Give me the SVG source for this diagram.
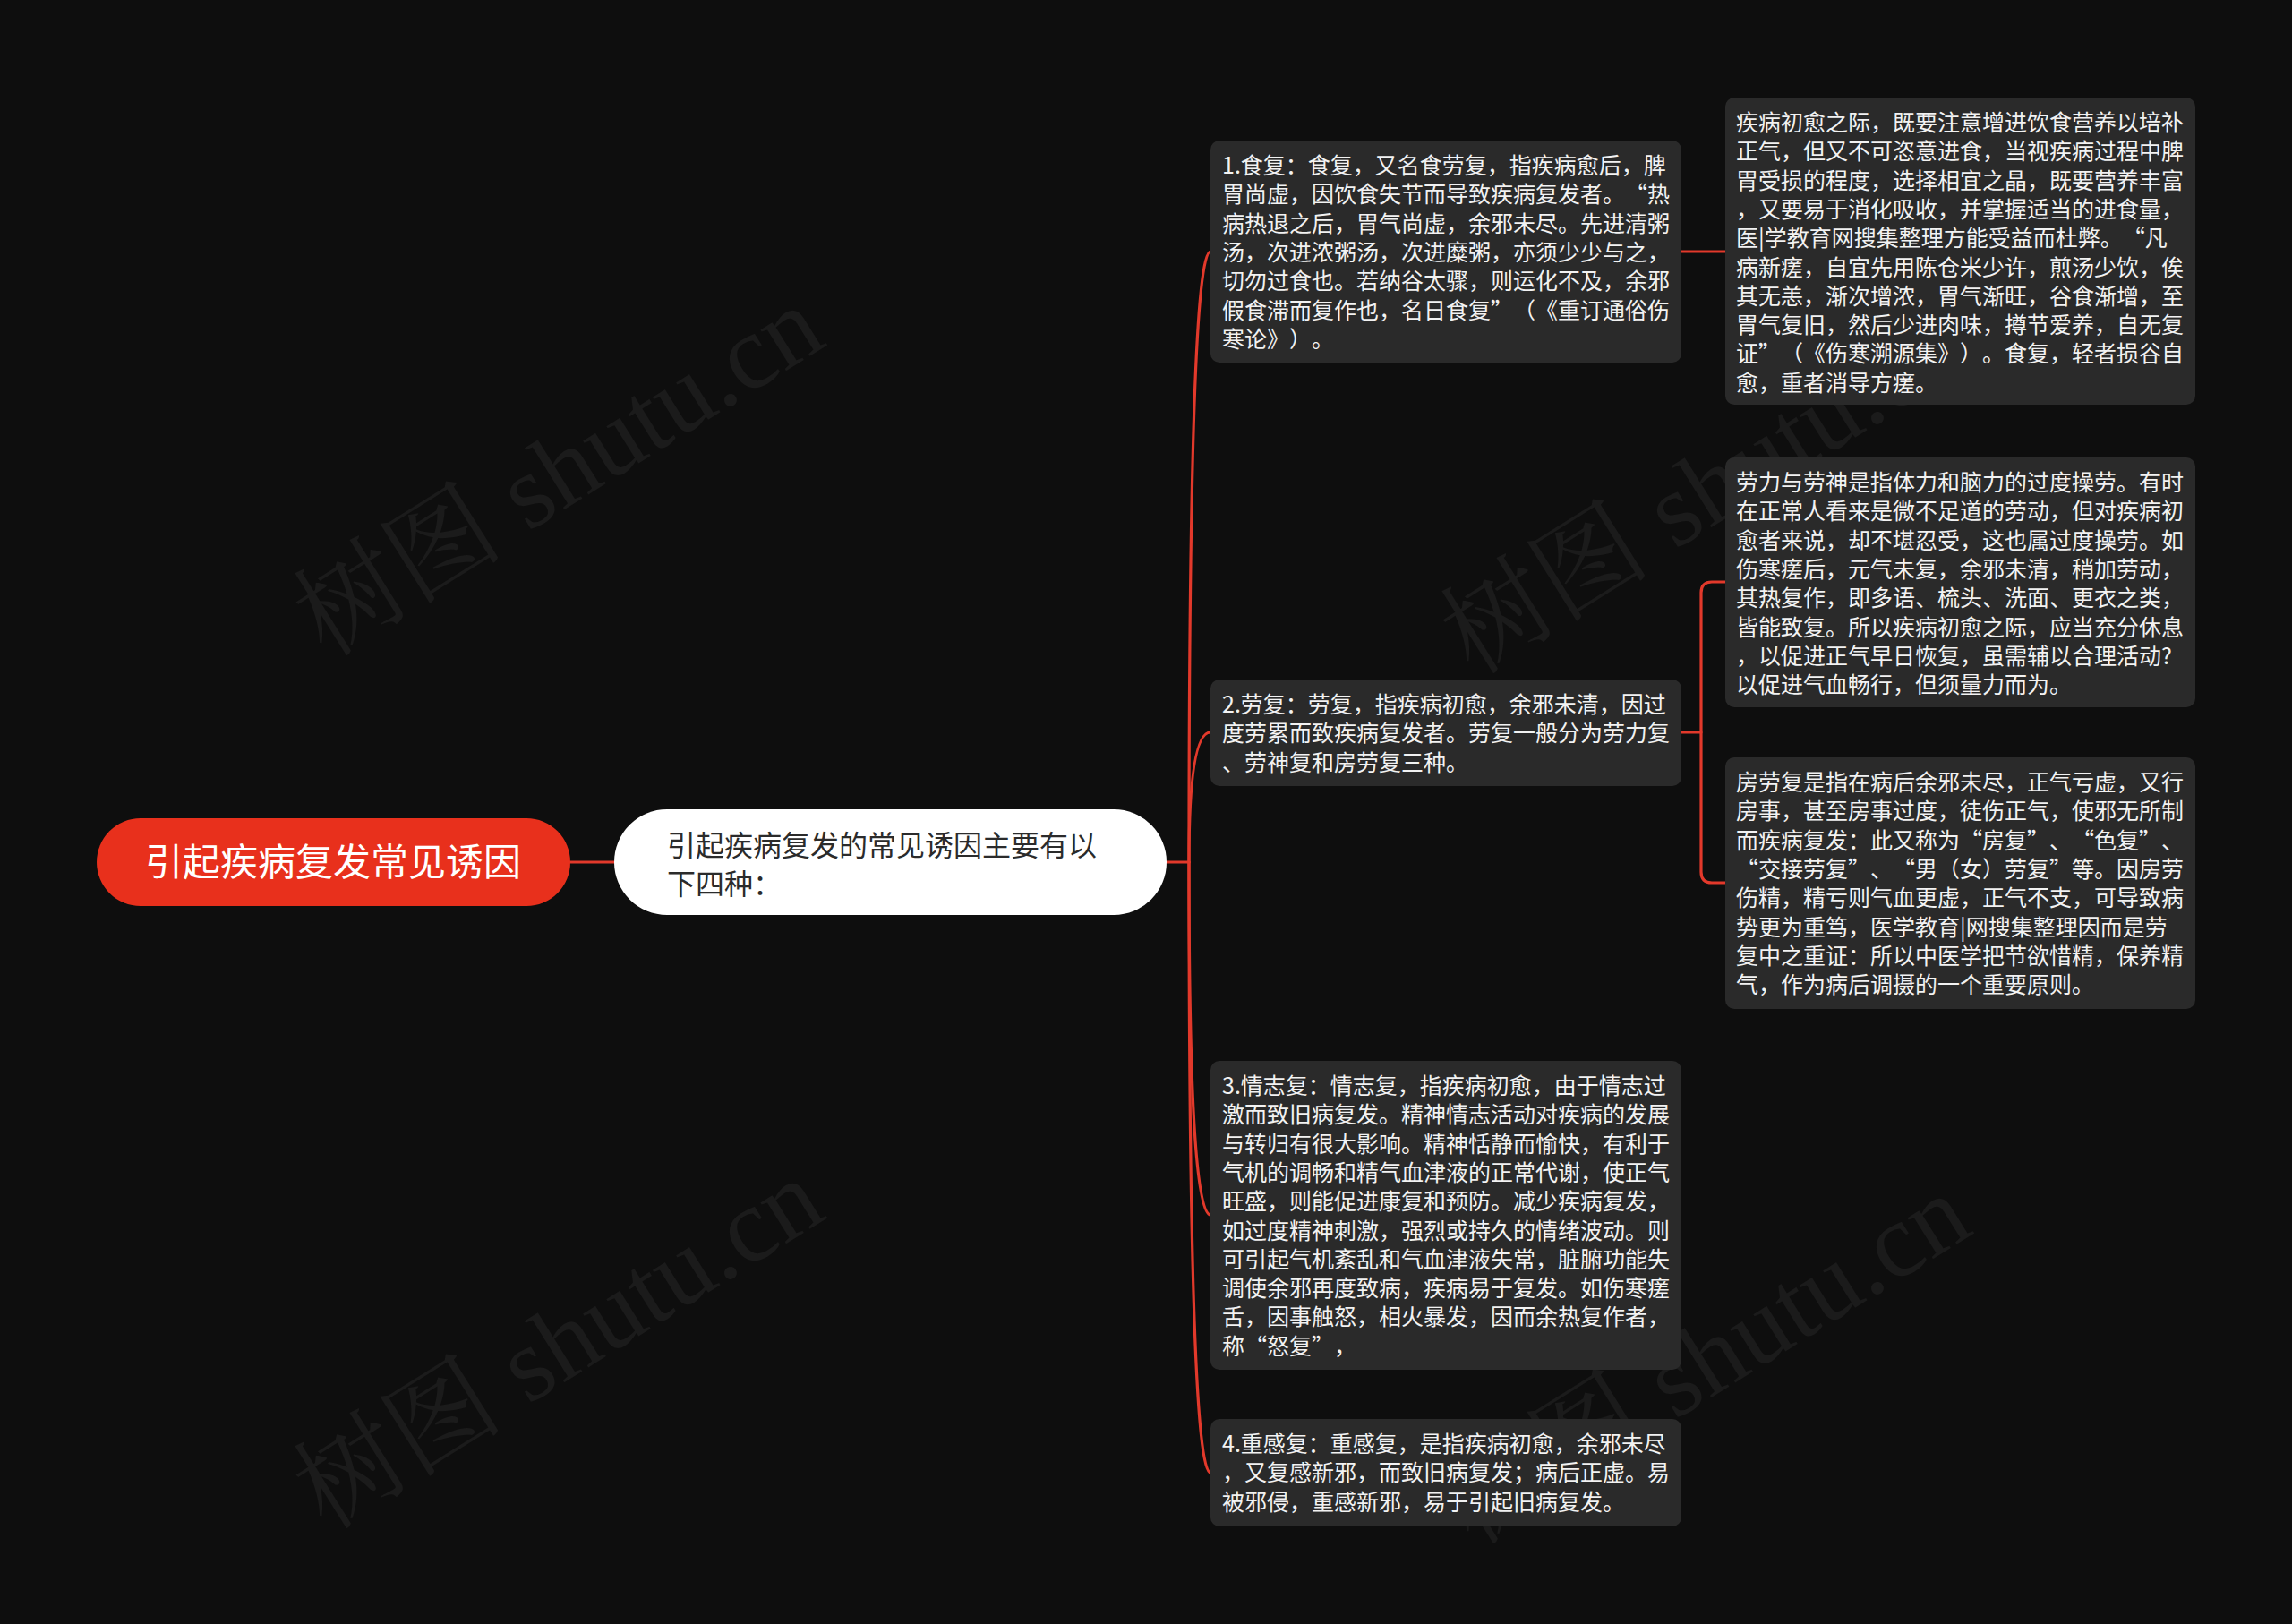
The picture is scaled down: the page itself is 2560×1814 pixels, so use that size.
<svg xmlns="http://www.w3.org/2000/svg" width="2560" height="1814" viewBox="0 0 2560 1814">
<style>
text{text-spacing-trim:space-all}
.wm{font-family:"Liberation Serif","Noto Serif CJK SC","Noto Sans CJK SC",serif;font-size:118px;fill:#1b1b1b}
.box{fill:#2a2a2a}
.bt{font-family:"Noto Sans CJK SC","Noto Sans",sans-serif;font-size:25px;fill:#f2f2f2}
.conn{fill:none;stroke:#e2392b;stroke-width:3.2;stroke-linecap:round}
</style>
<rect width="2560" height="1814" fill="#0e0e0e"/>
<g id="watermarks">
<text class="wm" x="645" y="560" text-anchor="middle" transform="rotate(-32 645 560)">树图 shutu.cn</text>
<text class="wm" x="645" y="1535" text-anchor="middle" transform="rotate(-32 645 1535)">树图 shutu.cn</text>
<text class="wm" x="1926" y="580" text-anchor="middle" transform="rotate(-32 1926 580)">树图 shutu.cn</text>
<text class="wm" x="1926" y="1552" text-anchor="middle" transform="rotate(-32 1926 1552)">树图 shutu.cn</text>
</g>
<g id="connectors">
<path class="conn" d="M637 963 H686"/>
<path class="conn" d="M1303 963 H1328"/>
<path class="conn" d="M1328 963 Q1328 281 1352 281"/>
<path class="conn" d="M1328 963 Q1328 818 1352 818"/>
<path class="conn" d="M1328 963 Q1328 1357 1352 1357"/>
<path class="conn" d="M1328 963 Q1328 1645 1352 1645"/>
<path class="conn" d="M1878 281 H1927"/>
<path class="conn" d="M1878 818 H1900"/>
<path class="conn" d="M1927 650 H1912 Q1900 650 1900 662 V974 Q1900 986 1912 986 H1927"/>
</g>
<g id="root">
<rect x="108" y="914" width="529" height="98" rx="49" fill="#e8301c"/>
<text x="372" y="978" text-anchor="middle" font-family="Noto Sans CJK SC, Noto Sans, sans-serif" font-size="42" fill="#ffffff">引起疾病复发常见诱因</text>
</g>
<g id="level1">
<rect x="686" y="904" width="617" height="118" rx="59" fill="#ffffff"/>
<text font-family="Noto Sans CJK SC, Noto Sans, sans-serif" font-size="32" fill="#2b2b2b"><tspan x="745" y="956">引起疾病复发的常见诱因主要有以</tspan><tspan x="745" y="999">下四种：</tspan></text>
</g>
<g id="n1">
<rect class="box" x="1352" y="157" width="526" height="248" rx="10"/>
<text class="bt"><tspan x="1365" y="194">1.食复：食复，又名食劳复，指疾病愈后，脾</tspan><tspan x="1365" dy="32.3">胃尚虚，因饮食失节而导致疾病复发者。“热</tspan><tspan x="1365" dy="32.3">病热退之后，胃气尚虚，余邪未尽。先进清粥</tspan><tspan x="1365" dy="32.3">汤，次进浓粥汤，次进糜粥，亦须少少与之，</tspan><tspan x="1365" dy="32.3">切勿过食也。若纳谷太骤，则运化不及，余邪</tspan><tspan x="1365" dy="32.3">假食滞而复作也，名日食复”（《重订通俗伤</tspan><tspan x="1365" dy="32.3">寒论》）。</tspan></text>
</g>
<g id="n1a">
<rect class="box" x="1927" y="109" width="525" height="343" rx="10"/>
<text class="bt"><tspan x="1939" y="146">疾病初愈之际，既要注意增进饮食营养以培补</tspan><tspan x="1939" dy="32.3">正气，但又不可恣意进食，当视疾病过程中脾</tspan><tspan x="1939" dy="32.3">胃受损的程度，选择相宜之晶，既要营养丰富</tspan><tspan x="1939" dy="32.3">，又要易于消化吸收，并掌握适当的进食量，</tspan><tspan x="1939" dy="32.3">医|学教育网搜集整理方能受益而杜弊。“凡</tspan><tspan x="1939" dy="32.3">病新瘥，自宜先用陈仓米少许，煎汤少饮，俟</tspan><tspan x="1939" dy="32.3">其无恙，渐次增浓，胃气渐旺，谷食渐增，至</tspan><tspan x="1939" dy="32.3">胃气复旧，然后少进肉味，撙节爱养，自无复</tspan><tspan x="1939" dy="32.3">证”（《伤寒溯源集》）。食复，轻者损谷自</tspan><tspan x="1939" dy="32.3">愈，重者消导方瘥。</tspan></text>
</g>
<g id="n2">
<rect class="box" x="1352" y="759" width="526" height="119" rx="10"/>
<text class="bt"><tspan x="1365" y="796">2.劳复：劳复，指疾病初愈，余邪未清，因过</tspan><tspan x="1365" dy="32.3">度劳累而致疾病复发者。劳复一般分为劳力复</tspan><tspan x="1365" dy="32.3">、劳神复和房劳复三种。</tspan></text>
</g>
<g id="n2a">
<rect class="box" x="1927" y="511" width="525" height="279" rx="10"/>
<text class="bt"><tspan x="1939" y="548">劳力与劳神是指体力和脑力的过度操劳。有时</tspan><tspan x="1939" dy="32.3">在正常人看来是微不足道的劳动，但对疾病初</tspan><tspan x="1939" dy="32.3">愈者来说，却不堪忍受，这也属过度操劳。如</tspan><tspan x="1939" dy="32.3">伤寒瘥后，元气未复，余邪未清，稍加劳动，</tspan><tspan x="1939" dy="32.3">其热复作，即多语、梳头、洗面、更衣之类，</tspan><tspan x="1939" dy="32.3">皆能致复。所以疾病初愈之际，应当充分休息</tspan><tspan x="1939" dy="32.3">，以促进正气早日恢复，虽需辅以合理活动?</tspan><tspan x="1939" dy="32.3">以促进气血畅行，但须量力而为。</tspan></text>
</g>
<g id="n2b">
<rect class="box" x="1927" y="846" width="525" height="281" rx="10"/>
<text class="bt"><tspan x="1939" y="883">房劳复是指在病后余邪未尽，正气亏虚，又行</tspan><tspan x="1939" dy="32.3">房事，甚至房事过度，徒伤正气，使邪无所制</tspan><tspan x="1939" dy="32.3">而疾病复发：此又称为“房复”、“色复”、</tspan><tspan x="1939" dy="32.3">“交接劳复”、“男（女）劳复”等。因房劳</tspan><tspan x="1939" dy="32.3">伤精，精亏则气血更虚，正气不支，可导致病</tspan><tspan x="1939" dy="32.3">势更为重笃，医学教育|网搜集整理因而是劳</tspan><tspan x="1939" dy="32.3">复中之重证：所以中医学把节欲惜精，保养精</tspan><tspan x="1939" dy="32.3">气，作为病后调摄的一个重要原则。</tspan></text>
</g>
<g id="n3">
<rect class="box" x="1352" y="1185" width="526" height="345" rx="10"/>
<text class="bt"><tspan x="1365" y="1222">3.情志复：情志复，指疾病初愈，由于情志过</tspan><tspan x="1365" dy="32.3">激而致旧病复发。精神情志活动对疾病的发展</tspan><tspan x="1365" dy="32.3">与转归有很大影响。精神恬静而愉快，有利于</tspan><tspan x="1365" dy="32.3">气机的调畅和精气血津液的正常代谢，使正气</tspan><tspan x="1365" dy="32.3">旺盛，则能促进康复和预防。减少疾病复发，</tspan><tspan x="1365" dy="32.3">如过度精神刺激，强烈或持久的情绪波动。则</tspan><tspan x="1365" dy="32.3">可引起气机紊乱和气血津液失常，脏腑功能失</tspan><tspan x="1365" dy="32.3">调使余邪再度致病，疾病易于复发。如伤寒瘥</tspan><tspan x="1365" dy="32.3">舌，因事触怒，相火暴发，因而余热复作者，</tspan><tspan x="1365" dy="32.3">称“怒复”，</tspan></text>
</g>
<g id="n4">
<rect class="box" x="1352" y="1585" width="526" height="120" rx="10"/>
<text class="bt"><tspan x="1365" y="1622">4.重感复：重感复，是指疾病初愈，余邪未尽</tspan><tspan x="1365" dy="32.3">，又复感新邪，而致旧病复发；病后正虚。易</tspan><tspan x="1365" dy="32.3">被邪侵，重感新邪，易于引起旧病复发。</tspan></text>
</g>
</svg>
